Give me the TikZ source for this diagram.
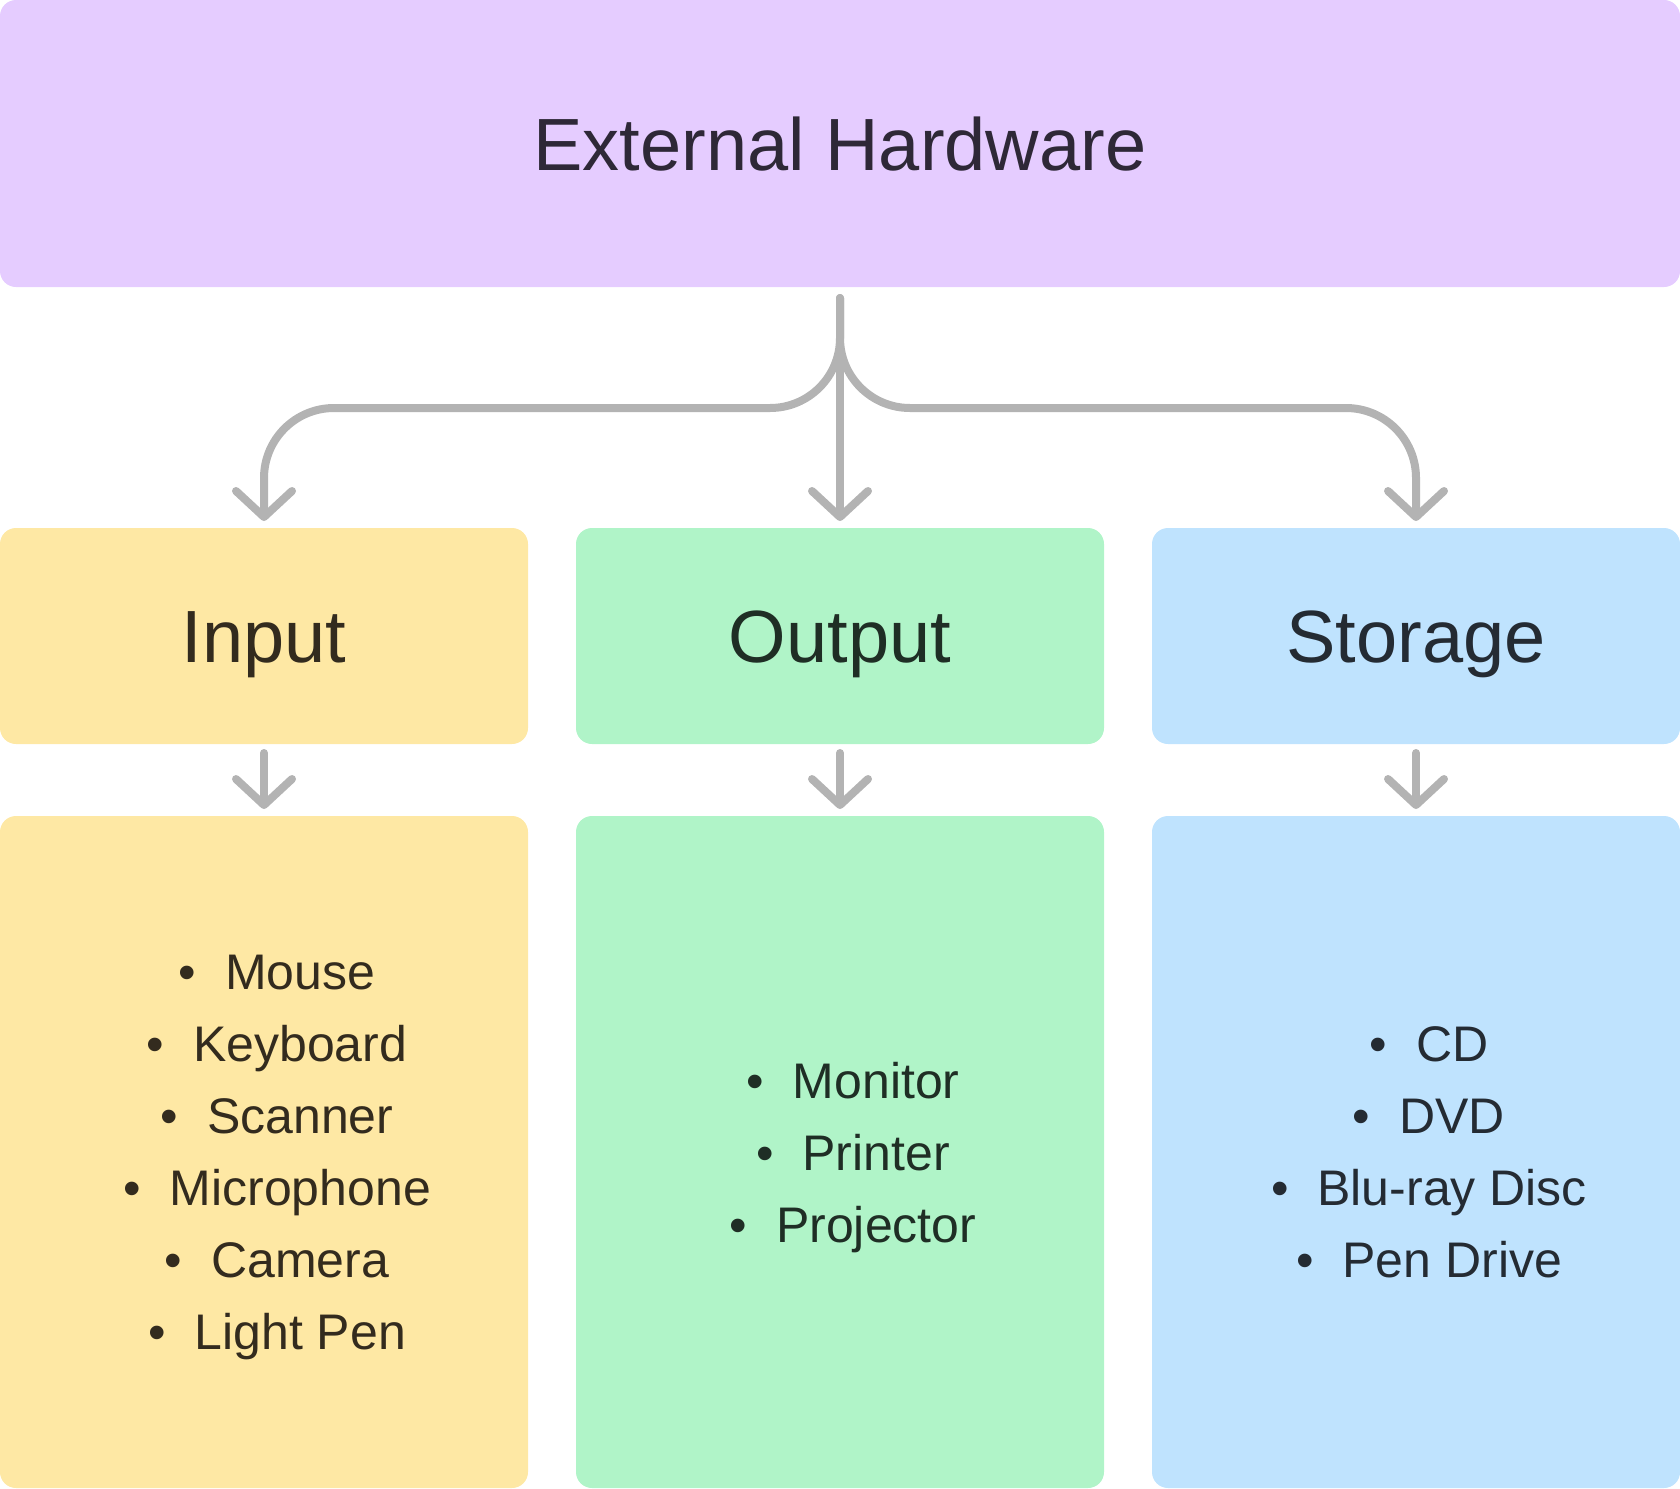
\documentclass[tikz,border=0pt]{standalone}
\usepackage{fontspec}
\setmainfont{Liberation Sans}
\usetikzlibrary{positioning,arrows.meta}

\definecolor{hwfill}{HTML}{E5CCFF}
\definecolor{infill}{HTML}{FEE8A4}
\definecolor{outfill}{HTML}{B0F4C8}
\definecolor{stfill}{HTML}{BFE3FE}
\definecolor{hwtext}{HTML}{2E2837}
\definecolor{intext}{HTML}{332B1E}
\definecolor{outtext}{HTML}{1F2E25}
\definecolor{sttext}{HTML}{242B33}
\definecolor{linkgray}{HTML}{B3B3B3}

\newcommand{\itm}[1]{\textbullet\hspace{14.5pt}#1}

\begin{document}
\begin{tikzpicture}[x=0.5pt, y=-0.5pt,
          every node/.style={inner sep=0pt, outer sep=0pt, rounded corners=8pt},
          head/.style={font=\fontsize{37}{44}\selectfont, minimum width=264pt, minimum height=108pt,
                       text height=26.5pt, text depth=0pt},
          listbox/.style={minimum width=264pt, minimum height=336pt},
          items/.style={font=\fontsize{25}{36}\selectfont, align=center, text depth=0pt},
          link/.style={draw=linkgray, line width=4pt, line cap=round, rounded corners=35pt,
                       -{Straight Barb[length=13pt, width=28pt, round]}}
        ]
        \useasboundingbox (0,0) rectangle (1680,1488);

        \node[head, fill=hwfill, text=hwtext, minimum width=840pt, minimum height=143.5pt] (hw) at (840,143.5) {External Hardware};

        \node[head, fill=infill, text=intext] (input) at (264,636) {Input};
        \node[head, fill=outfill, text=outtext, right=24pt of input] (output) {Output};
        \node[head, fill=stfill, text=sttext, right=24pt of output] (storage) {Storage};

        \node[listbox, fill=infill, below=36pt of input] (inbox) {};
        \node[listbox, fill=outfill, below=36pt of output] (outbox) {};
        \node[listbox, fill=stfill, below=36pt of storage] (stbox) {};

        \node[items, text=intext] (initems) at ([xshift=6.5pt]inbox.center)
            {\itm{Mouse}\\ \itm{Keyboard}\\ \itm{Scanner}\\ \itm{Microphone}\\ \itm{Camera}\\ \itm{Light Pen}};
        \node[items, text=outtext] (outitems) at ([xshift=6.5pt]outbox.center)
            {\itm{Monitor}\\ \itm{Printer}\\ \itm{Projector}};
        \node[items, text=sttext] (stitems) at ([xshift=6.5pt]stbox.center)
            {\itm{CD}\\ \itm{DVD}\\ \itm{Blu-ray Disc}\\ \itm{Pen Drive}};

        \coordinate (bend) at ([yshift=-60.5pt]hw.south);
        \draw[link] ([yshift=-5.5pt]hw.south) |- (bend -| input.north) -- ([yshift=3.5pt]input.north);
        \draw[link] ([yshift=-5.5pt]hw.south) |- (bend -| storage.north) -- ([yshift=3.5pt]storage.north);
        \draw[link] ([yshift=-5.5pt]hw.south) -- ([yshift=3.5pt]output.north);

        \foreach \a/\b in {input/inbox, output/outbox, storage/stbox}
          \draw[link] ([yshift=-4.5pt]\a.south) -- ([yshift=3.5pt]\b.north);
\end{tikzpicture}
\end{document}
